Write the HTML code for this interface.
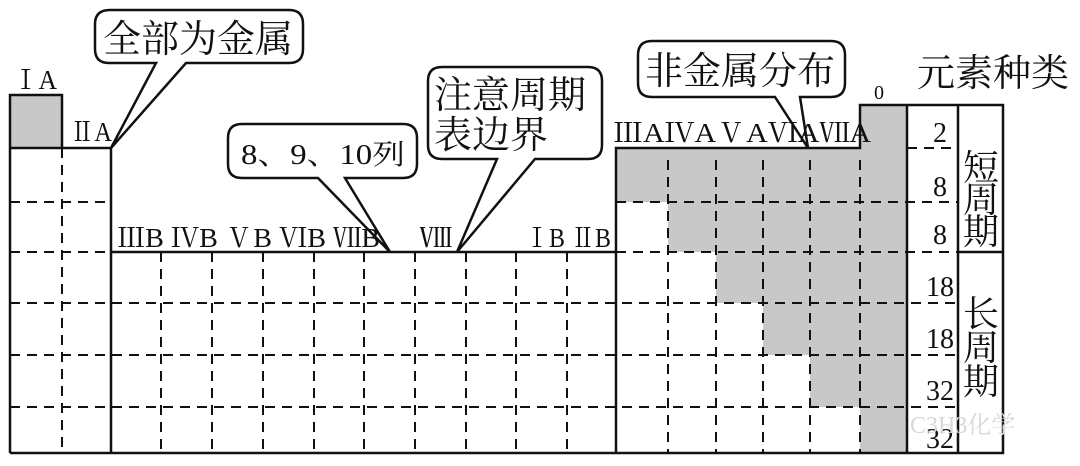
<!DOCTYPE html>
<html><head><meta charset="utf-8"><style>
body{margin:0;background:#fff}
svg{display:block}
text{font-family:"Liberation Serif","Noto Serif CJK SC","Noto Sans CJK SC",serif;fill:#111}
</style></head><body>
<svg width="1080" height="466" viewBox="0 0 1080 466" xmlns="http://www.w3.org/2000/svg">
<g fill="#c8c8c8">
<rect x="10" y="95" width="52" height="53"/>
<rect x="860" y="105" width="47" height="43"/>
<rect x="616" y="148" width="291" height="54"/>
<rect x="668" y="202" width="239" height="50"/>
<rect x="716" y="252" width="191" height="51"/>
<rect x="763" y="303" width="144" height="52"/>
<rect x="810" y="355" width="97" height="52"/>
<rect x="860" y="407" width="47" height="46"/>
</g>
<g stroke="#111" stroke-width="2" fill="none" stroke-dasharray="10,7">
<line x1="10" y1="202" x2="111" y2="202"/>
<line x1="10" y1="252" x2="111" y2="252"/>
<line x1="10" y1="303" x2="958" y2="303"/>
<line x1="10" y1="355" x2="958" y2="355"/>
<line x1="10" y1="407" x2="958" y2="407"/>
<line x1="616" y1="202" x2="958" y2="202"/>
<line x1="616" y1="252" x2="958" y2="252"/>
<line x1="907" y1="148" x2="958" y2="148"/>
<line x1="62" y1="148" x2="62" y2="453"/>
<line x1="161" y1="252" x2="161" y2="453"/><line x1="212" y1="252" x2="212" y2="453"/>
<line x1="263" y1="252" x2="263" y2="453"/><line x1="314" y1="252" x2="314" y2="453"/>
<line x1="364" y1="252" x2="364" y2="453"/><line x1="415" y1="252" x2="415" y2="453"/>
<line x1="466" y1="252" x2="466" y2="453"/><line x1="516" y1="252" x2="516" y2="453"/>
<line x1="567" y1="252" x2="567" y2="453"/>
<line x1="668" y1="160" x2="668" y2="453"/><line x1="716" y1="160" x2="716" y2="453"/>
<line x1="763" y1="160" x2="763" y2="453"/><line x1="810" y1="160" x2="810" y2="453"/>
<line x1="860" y1="160" x2="860" y2="453"/>
</g>
<g stroke="#111" stroke-width="2.5" fill="none">
<path d="M10 453 V95 H62 V148 H111 V453"/>
<line x1="10" y1="148" x2="62" y2="148"/>
<line x1="111" y1="252" x2="616" y2="252"/>
<path d="M616 453 V148 H860 V105 H1003 V453 H10"/>
<line x1="907" y1="105" x2="907" y2="453"/>
<line x1="958" y1="105" x2="958" y2="453"/>
<line x1="958" y1="252" x2="1003" y2="252"/>
</g>
<g stroke="#111" stroke-width="2.5" fill="#fff">
<path d="M110 10 H289 Q303 10 303 24 V49 Q303 63 289 63 H186 L111 148 L156 63 H109 Q95 63 95 49 V24 Q95 10 110 10 Z"/>
<path d="M242 124 H403 Q417 124 417 138 V164 Q417 178 403 178 H345 L390 252 L318 178 H242 Q228 178 228 164 V138 Q228 124 242 124 Z"/>
<path d="M442 67 H588 Q602 67 602 81 V145 Q602 159 588 159 H535 L457 252 L497 159 H442 Q428 159 428 145 V81 Q428 67 442 67 Z"/>
<path d="M652 41 H831 Q845 41 845 55 V83 Q845 97 831 97 H800 L808 148 L775 97 H652 Q638 97 638 83 V55 Q638 41 652 41 Z"/>
</g>
<g font-size="38">
<text x="103" y="52">全部为金属</text>
<text x="434" y="108">注意周期</text>
<text x="434" y="148">表边界</text>
<text x="645" y="84">非金属分布</text>
<text x="917" y="86">元素种类</text>
</g>
<text x="241" y="164" font-size="28" textLength="164" lengthAdjust="spacingAndGlyphs">8、9、10列</text>
<g font-size="27">
<text x="13" y="89" textLength="44" lengthAdjust="spacingAndGlyphs">ⅠA</text>
<text x="70" y="141" textLength="42" lengthAdjust="spacingAndGlyphs">ⅡA</text>
<text x="117" y="247" textLength="263" lengthAdjust="spacingAndGlyphs">ⅢB ⅣB ⅤB ⅥB ⅦB</text>
<text x="420" y="247" textLength="32" lengthAdjust="spacingAndGlyphs">Ⅷ</text>
<text x="525" y="247" textLength="86" lengthAdjust="spacingAndGlyphs">ⅠB ⅡB</text>
<text x="613" y="142" textLength="258" lengthAdjust="spacingAndGlyphs">ⅢAⅣAⅤAⅥAⅦA</text>
<text x="874" y="99" font-size="20">0</text>
</g>
<g font-size="28" text-anchor="middle">
<text x="940" y="142">2</text>
<text x="940" y="196">8</text>
<text x="940" y="244">8</text>
<text x="940" y="296">18</text>
<text x="940" y="348">18</text>
<text x="940" y="400">32</text>
<text x="940" y="448">32</text>
</g>
<g font-size="36" text-anchor="middle">
<text x="981" y="180">短</text>
<text x="981" y="212">周</text>
<text x="981" y="244">期</text>
<text x="981" y="326">长</text>
<text x="981" y="360">周</text>
<text x="981" y="394">期</text>
</g>
<text x="910" y="433" font-size="24" style="fill:#d8d8d8">C3H3化学</text>
</svg>
</body></html>
